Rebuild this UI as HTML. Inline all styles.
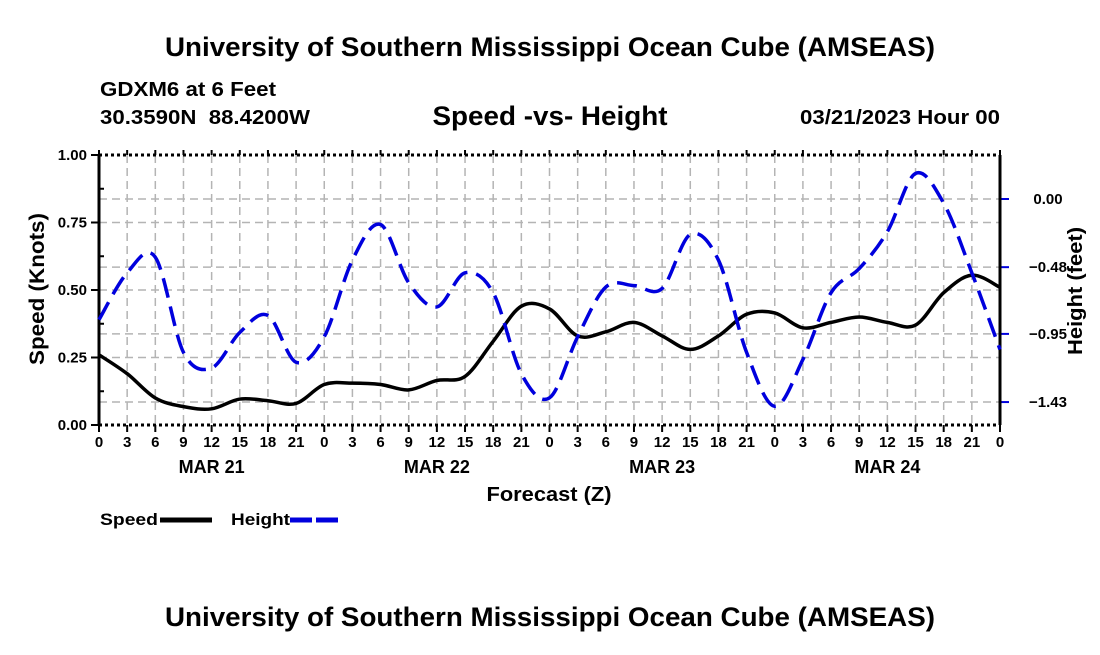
<!DOCTYPE html>
<html><head><meta charset="utf-8"><style>
body{margin:0;background:#fff;}
svg text{font-family:"Liberation Sans",Arial,sans-serif;font-weight:bold;fill:#000;}
</style></head><body>
<svg id="chart" width="1100" height="650" xmlns="http://www.w3.org/2000/svg">
<rect width="1100" height="650" fill="#fff"/>
<text x="550" y="56" font-size="27" text-anchor="middle" textLength="770" lengthAdjust="spacingAndGlyphs">University of Southern Mississippi Ocean Cube (AMSEAS)</text>
<text x="100" y="96" font-size="20" textLength="176" lengthAdjust="spacingAndGlyphs">GDXM6 at 6 Feet</text>
<text x="100" y="124" font-size="20" textLength="210" lengthAdjust="spacingAndGlyphs" xml:space="preserve">30.3590N  88.4200W</text>
<text x="550" y="125" font-size="27" text-anchor="middle" textLength="235" lengthAdjust="spacingAndGlyphs">Speed -vs- Height</text>
<text x="1000" y="124" font-size="20" text-anchor="end" textLength="200" lengthAdjust="spacingAndGlyphs">03/21/2023 Hour 00</text>
<g id="grid"></g>
<g id="axes"></g>
<g id="series"></g>
<text transform="translate(44,289) rotate(-90)" font-size="21" text-anchor="middle" textLength="152" lengthAdjust="spacingAndGlyphs">Speed (Knots)</text>
<text transform="translate(1082,291) rotate(-90)" font-size="20" text-anchor="middle" textLength="128" lengthAdjust="spacingAndGlyphs">Height (feet)</text>
<text x="549" y="501" font-size="20" text-anchor="middle" textLength="125" lengthAdjust="spacingAndGlyphs">Forecast (Z)</text>
<g>
<text x="100" y="525" font-size="17" textLength="58" lengthAdjust="spacingAndGlyphs">Speed</text>
<line x1="160" y1="520" x2="212" y2="520" stroke="#000" stroke-width="5"/>
<text x="231" y="525" font-size="17" textLength="59" lengthAdjust="spacingAndGlyphs">Height</text>
<line x1="290" y1="520" x2="342" y2="520" stroke="#0000dd" stroke-width="5" stroke-dasharray="22,4"/>
</g>
<text x="550" y="626" font-size="27" text-anchor="middle" textLength="770" lengthAdjust="spacingAndGlyphs">University of Southern Mississippi Ocean Cube (AMSEAS)</text>
</svg>
<script>
const hours=[0,3,6,9,12,15,18,21,24,27,30,33,36,39,42,45,48,51,54,57,60,63,66,69,72,75,78,81,84,87,90,93,96];
const speed=[0.26,0.19,0.10,0.068,0.06,0.096,0.09,0.08,0.15,0.155,0.15,0.13,0.165,0.18,0.31,0.44,0.43,0.33,0.345,0.38,0.33,0.28,0.33,0.41,0.415,0.36,0.38,0.40,0.38,0.37,0.49,0.555,0.51];
const height=[-0.85,-0.52,-0.41,-1.08,-1.19,-0.94,-0.82,-1.15,-0.97,-0.43,-0.18,-0.59,-0.76,-0.52,-0.66,-1.23,-1.40,-0.97,-0.62,-0.61,-0.63,-0.25,-0.43,-1.08,-1.46,-1.13,-0.66,-0.49,-0.23,0.18,-0.03,-0.52,-1.06];
const xTickLabels=["0","3","6","9","12","15","18","21","0","3","6","9","12","15","18","21","0","3","6","9","12","15","18","21","0","3","6","9","12","15","18","21","0"];
const dayLabels=["MAR 21","MAR 22","MAR 23","MAR 24"];
const dayHours=[12,36,60,84];
const leftTicks=[0,0.25,0.5,0.75,1.0];
const leftTickLabels=["0.00","0.25","0.50","0.75","1.00"];
const rightTicks=[0,-0.48,-0.95,-1.43];
const rightTickLabels=["0.00","\u22120.48","\u22120.95","\u22121.43"];

const L=99,R=1000,T=155,B=425;
const X=h=>L+(R-L)*h/96;
const YS=v=>B-(B-T)*v;
const YH=v=>199-142*v;
const NS="http://www.w3.org/2000/svg";
function mk(tag,attrs,parent,text){const e=document.createElementNS(NS,tag);for(const k in attrs)e.setAttribute(k,attrs[k]);if(text!==undefined)e.textContent=text;parent.appendChild(e);return e;}
const grid=document.getElementById('grid'),axes=document.getElementById('axes'),series=document.getElementById('series');
const gstyle={stroke:"#b4b4b4","stroke-width":1.5,"stroke-dasharray":"8,5"};
hours.forEach((h,i)=>{
 if(i>0&&i<hours.length-1){const l=mk('line',Object.assign({x1:X(h),y1:T,x2:X(h),y2:B},gstyle),grid);
 
 }
 const t=mk('line',{x1:X(h),y1:B,x2:X(h),y2:B+7,stroke:"#000","stroke-width":2},axes);
 
 
 const t2=mk('line',{x1:X(h),y1:T,x2:X(h),y2:T-5,stroke:"#000","stroke-width":2},axes);
 
 
 const tl=mk('text',{x:X(h),y:B+22,"font-size":15,"text-anchor":"middle"},axes,xTickLabels[i]);
 
 
});
dayLabels.forEach((d,i)=>{const t=mk('text',{x:X(dayHours[i]),y:B+48,"font-size":18,"text-anchor":"middle"},axes,d);
 
 });
leftTicks.forEach((v,i)=>{
 if(v>0&&v<1){const g=mk('line',Object.assign({x1:L,y1:YS(v),x2:R,y2:YS(v)},gstyle),grid);
 
 }
 const tk=mk('line',{x1:L-8,y1:YS(v),x2:L,y2:YS(v),stroke:"#000","stroke-width":2},axes);
 
 
 const t=mk('text',{x:L-12,y:YS(v)+5,"font-size":15,"text-anchor":"end"},axes,leftTickLabels[i]);
 
 
});
[0.125,0.375,0.625,0.875].forEach(v=>{const m=mk('line',{x1:L,y1:YS(v),x2:L+5,y2:YS(v),stroke:"#000","stroke-width":2},axes);
 
 });
rightTicks.forEach((v,i)=>{
 const g=mk('line',Object.assign({x1:L,y1:YH(v),x2:R,y2:YH(v)},gstyle),grid);
 
 
 const tk=mk('line',{x1:R,y1:YH(v),x2:R+9,y2:YH(v),stroke:"#0000dd","stroke-width":2},axes);
 
 
 const t=mk('text',{x:1048,y:YH(v)+5,"font-size":15,"text-anchor":"middle"},axes,rightTickLabels[i]);
 
 
});
const fr=[["axis-left",L,T,L,B,"none"],["axis-right",R,T,R,B,"none"],["axis-top",L,T,R,T,"3,3"],["axis-bottom",L,B,R,B,"3,3"]];
fr.forEach(f=>{const l=mk('line',{x1:f[1],y1:f[2],x2:f[3],y2:f[4],stroke:"#000","stroke-width":3,"stroke-dasharray":f[5]},axes);
 
 });
function smooth(pts){let d=`M${pts[0][0]},${pts[0][1]}`;for(let i=0;i<pts.length-1;i++){const p0=pts[Math.max(0,i-1)],p1=pts[i],p2=pts[i+1],p3=pts[Math.min(pts.length-1,i+2)];
 d+=` C${p1[0]+(p2[0]-p0[0])/6},${p1[1]+(p2[1]-p0[1])/6} ${p2[0]-(p3[0]-p1[0])/6},${p2[1]-(p3[1]-p1[1])/6} ${p2[0]},${p2[1]}`;}return d;}
const sp=mk('path',{d:smooth(hours.map((h,i)=>[X(h),YS(speed[i])])),fill:"none",stroke:"#000","stroke-width":3.5},series);


const hp=mk('path',{d:smooth(hours.map((h,i)=>[X(h),YH(height[i])])),fill:"none",stroke:"#0000dd","stroke-width":3.5,"stroke-dasharray":"20,9"},series);


</script>
</body></html>
